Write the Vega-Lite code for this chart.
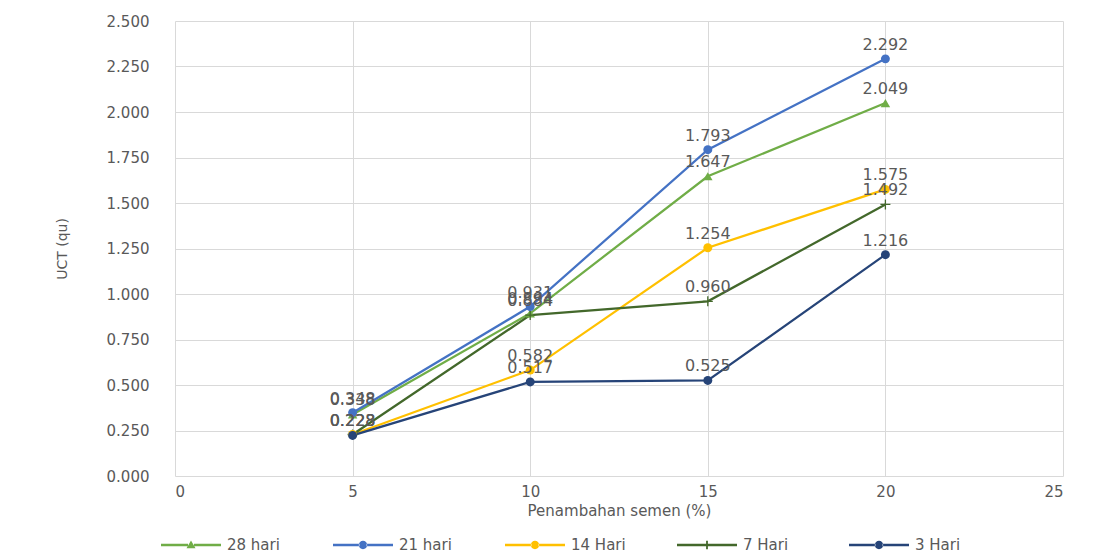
{
  "$schema": "https://vega.github.io/schema/vega-lite/v6.json",
  "width": 888,
  "height": 455,
  "autosize": {"type": "none"},
  "padding": {"left": 175, "top": 21, "right": 37, "bottom": 84},
  "background": "white",
  "config": {"view": {"stroke": null}, "font": "DejaVu Sans"},
  "data": {
    "values": [
      {"x": 5, "v": 0.338, "s": "28 hari"},
      {"x": 10, "v": 0.894, "s": "28 hari"},
      {"x": 15, "v": 1.647, "s": "28 hari"},
      {"x": 20, "v": 2.049, "s": "28 hari"},
      {"x": 5, "v": 0.348, "s": "21 hari"},
      {"x": 10, "v": 0.931, "s": "21 hari"},
      {"x": 15, "v": 1.793, "s": "21 hari"},
      {"x": 20, "v": 2.292, "s": "21 hari"},
      {"x": 5, "v": 0.228, "s": "14 Hari"},
      {"x": 10, "v": 0.582, "s": "14 Hari"},
      {"x": 15, "v": 1.254, "s": "14 Hari"},
      {"x": 20, "v": 1.575, "s": "14 Hari"},
      {"x": 5, "v": 0.228, "s": "7 Hari"},
      {"x": 10, "v": 0.884, "s": "7 Hari"},
      {"x": 15, "v": 0.96, "s": "7 Hari"},
      {"x": 20, "v": 1.492, "s": "7 Hari"},
      {"x": 5, "v": 0.223, "s": "3 Hari"},
      {"x": 10, "v": 0.517, "s": "3 Hari"},
      {"x": 15, "v": 0.525, "s": "3 Hari"},
      {"x": 20, "v": 1.216, "s": "3 Hari"}
    ]
  },
  "encoding": {
    "x": {
      "field": "x",
      "type": "quantitative",
      "scale": {"domain": [0, 25], "nice": false},
      "axis": {
        "values": [0, 5, 10, 15, 20, 25],
        "title": "Penambahan semen (%)",
        "domain": false,
        "ticks": false,
        "gridColor": "#D9D9D9",
        "labelColor": "#595959",
        "labelFontSize": 15,
        "labelPadding": 8,
        "titleColor": "#595959",
        "titleFontSize": 15,
        "titleFontWeight": "normal",
        "titlePadding": 4
      }
    },
    "y": {
      "field": "v",
      "type": "quantitative",
      "scale": {"domain": [0, 2.5], "nice": false},
      "axis": {
        "values": [0, 0.25, 0.5, 0.75, 1, 1.25, 1.5, 1.75, 2, 2.25, 2.5],
        "format": ".3f",
        "title": "UCT (qu)",
        "domain": false,
        "ticks": false,
        "gridColor": "#D9D9D9",
        "labelColor": "#595959",
        "labelFontSize": 15,
        "labelPadding": 26,
        "titleColor": "#595959",
        "titleFontSize": 14,
        "titleFontWeight": "normal",
        "titlePadding": 37
      }
    },
    "color": {
      "field": "s",
      "type": "nominal",
      "sort": null,
      "scale": {
        "domain": ["28 hari", "21 hari", "14 Hari", "7 Hari", "3 Hari"],
        "range": ["#70AD47", "#4472C4", "#FFC000", "#43682B", "#264478"]
      },
      "legend": {
        "orient": "none",
        "legendX": -14,
        "legendY": 494,
        "direction": "horizontal",
        "columns": 5,
        "title": null,
        "padding": 0,
        "symbolSize": 3600,
        "symbolStrokeWidth": 0,
        "labelFontSize": 15,
        "labelColor": "#595959",
        "labelOffset": 6,
        "columnPadding": 51,
        "gridAlign": "all",
        "encode": {
          "symbols": {
            "update": {
              "shape": {"signal": "datum.value === '28 hari' ? 'M-1,-0.04L-0.1,-0.04L-0.1,0.04L-1,0.04Z M0.1,-0.04L1,-0.04L1,0.04L0.1,0.04Z M0,-0.15L0.15,0.11L-0.15,0.11Z' : datum.value === '7 Hari' ? 'M-1,-0.04L-0.03,-0.04L-0.03,0.04L-1,0.04Z M0.03,-0.04L1,-0.04L1,0.04L0.03,0.04Z M-0.03,-0.14L0.03,-0.14L0.03,0.14L-0.03,0.14Z' : 'M-1,-0.04L-0.12,-0.04L-0.12,0.04L-1,0.04Z M0.12,-0.04L1,-0.04L1,0.04L0.12,0.04Z M-0.14,0A0.14,0.14 0 1,0 0.14,0A0.14,0.14 0 1,0 -0.14,0Z'"},
              "fill": {"signal": "scale('color', datum.value)"},
              "opacity": {"value": 1},
              "fillOpacity": {"value": 1}
            }
          }
        }
      }
    }
  },
  "layer": [
    {"mark": {"type": "line", "strokeWidth": 2.25}},
    {
      "transform": [{"filter": "datum.s === '28 hari'"}],
      "mark": {"type": "point", "filled": true, "opacity": 1, "shape": "triangle-up", "size": 90}
    },
    {
      "transform": [{"filter": "datum.s === '7 Hari'"}],
      "mark": {"type": "point", "filled": true, "opacity": 1, "shape": "M-1,-0.13L1,-0.13L1,0.13L-1,0.13Z M-0.13,-1L0.13,-1L0.13,1L-0.13,1Z", "size": 100}
    },
    {
      "transform": [{"filter": "datum.s !== '28 hari' && datum.s !== '7 Hari'"}],
      "mark": {"type": "point", "filled": true, "opacity": 1, "shape": "circle", "size": 80}
    },
    {
      "mark": {"type": "text", "dy": -14, "fontSize": 16, "baseline": "middle", "align": "center"},
      "encoding": {
        "text": {"field": "v", "type": "quantitative", "format": ".3f"},
        "color": {"value": "#595959"}
      }
    }
  ]
}
